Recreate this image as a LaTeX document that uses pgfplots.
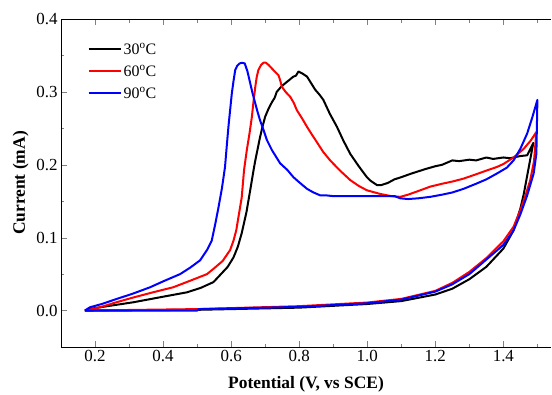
\documentclass[border=0pt]{standalone}
\usepackage{fontspec}
\setmainfont{Liberation Serif}
\usepackage{pgfplots}
\pgfplotsset{compat=1.18}
\begin{document}
\begin{tikzpicture}
\begin{axis}[
  width=490bp, height=328bp, scale only axis,
  xmin=0.1, xmax=1.54, ymin=-0.05, ymax=0.4,
  separate axis lines,
  axis x line*=box, axis y line*=left,
  tick align=inside,
  xtick={0.2,0.4,...,1.41}, ytick={0,0.1,...,0.41},
  minor xtick={0.1,0.3,...,1.51}, minor ytick={-0.05,0.05,0.15,0.25,0.35},
  xticklabel style={/pgf/number format/.cd,fixed,fixed zerofill,precision=1},
  yticklabel style={/pgf/number format/.cd,fixed,fixed zerofill,precision=1},
  /pgf/number format/assume math mode=true,
  tick label style={font=\fontsize{17}{19}\selectfont},
  major tick length=6bp, minor tick length=3.5bp,
  xlabel={\textbf{Potential (V, vs SCE)}},
  ylabel={\textbf{Current (mA)}},
  label style={font=\fontsize{17.5}{20}\selectfont},
  xlabel style={yshift=-8bp},
  ylabel style={yshift=1bp},
  legend style={draw=none, fill=none, at={(rel axis cs:0.048,0.94)}, anchor=north west,
    font=\fontsize{16}{18}\selectfont, row sep=5bp},
  legend cell align=left,
  legend image code/.code={\draw[#1, line width=2bp] (0bp,0bp) -- (32bp,0bp);},
  every axis plot/.append style={line width=2bp, line join=round},
]
\coordinate (bl) at (rel axis cs:0,0);
\coordinate (tr) at (rel axis cs:1,1);
% 30 C
\addplot[black] coordinates {
(0.17,0.0) (0.5,0.001) (0.8,0.004) (1.0,0.009) (1.1,0.013) (1.2,0.022) (1.25,0.030) (1.3,0.043) (1.35,0.060) (1.4,0.085) (1.43,0.11) (1.45,0.14) (1.46,0.16) (1.47,0.185) (1.48,0.21) (1.488,0.23)
(1.47,0.213) (1.45,0.212) (1.42,0.209) (1.4,0.210) (1.37,0.208) (1.35,0.210) (1.32,0.206) (1.3,0.207) (1.27,0.205) (1.25,0.206) (1.22,0.200) (1.2,0.198) (1.17,0.194) (1.15,0.191) (1.13,0.188) (1.1,0.183) (1.08,0.180) (1.06,0.175) (1.04,0.172) (1.029,0.172) (1.01,0.178) (0.999,0.183) (0.975,0.198) (0.95,0.215) (0.93,0.233) (0.911,0.252) (0.89,0.270) (0.871,0.289) (0.86,0.296) (0.847,0.303) (0.835,0.312) (0.823,0.321) (0.81,0.325) (0.798,0.328) (0.79,0.322) (0.783,0.321) (0.77,0.316) (0.754,0.310) (0.745,0.306) (0.734,0.300) (0.728,0.292) (0.72,0.286) (0.71,0.277) (0.7,0.266) (0.692,0.252) (0.685,0.238) (0.678,0.222) (0.671,0.206) (0.666,0.193) (0.656,0.165) (0.645,0.135) (0.631,0.106) (0.62,0.088) (0.607,0.073) (0.59,0.060) (0.57,0.050) (0.548,0.039) (0.51,0.031) (0.47,0.025) (0.4,0.019) (0.313,0.0114) (0.25,0.007) (0.185,0.0023) (0.17,0.0)
};
\addlegendentry{30$^{\mathrm{o}}$C}
% 60 C
\addplot[red] coordinates {
(0.17,0.0) (0.5,0.002) (0.8,0.006) (1.0,0.011) (1.1,0.016) (1.2,0.027) (1.25,0.038) (1.3,0.053) (1.35,0.072) (1.4,0.095) (1.43,0.115) (1.45,0.138) (1.465,0.158) (1.479,0.179) (1.49,0.205) (1.497,0.245)
(1.48,0.233) (1.46,0.222) (1.43,0.210) (1.4,0.201) (1.381,0.197) (1.35,0.192) (1.32,0.187) (1.283,0.181) (1.25,0.177) (1.22,0.174) (1.185,0.170) (1.15,0.164) (1.12,0.159) (1.097,0.156) (1.07,0.157) (1.038,0.160) (0.999,0.165) (0.975,0.171) (0.95,0.179) (0.92,0.192) (0.891,0.206) (0.87,0.218) (0.852,0.231) (0.838,0.241) (0.823,0.252) (0.808,0.264) (0.793,0.275) (0.784,0.285) (0.774,0.293) (0.76,0.300) (0.749,0.307) (0.744,0.316) (0.739,0.323) (0.73,0.327) (0.72,0.332) (0.71,0.337) (0.702,0.340) (0.695,0.340) (0.688,0.337) (0.68,0.330) (0.675,0.320) (0.671,0.307) (0.666,0.288) (0.661,0.266) (0.654,0.243) (0.646,0.220) (0.638,0.193) (0.631,0.155) (0.615,0.110) (0.607,0.096) (0.597,0.083) (0.575,0.068) (0.55,0.058) (0.529,0.050) (0.48,0.041) (0.43,0.032) (0.37,0.025) (0.313,0.018) (0.26,0.011) (0.215,0.0045) (0.17,0.0)
};
\addlegendentry{60$^{\mathrm{o}}$C}
% 90 C
\addplot[blue] coordinates {
(0.17,0.0) (0.5,0.0) (0.505,0.002) (0.8,0.005) (1.0,0.010) (1.1,0.015) (1.2,0.026) (1.25,0.036) (1.3,0.050) (1.35,0.070) (1.4,0.090) (1.43,0.110) (1.45,0.132) (1.47,0.158) (1.489,0.188) (1.497,0.215) (1.5,0.289)
(1.485,0.265) (1.47,0.243) (1.45,0.222) (1.43,0.206) (1.41,0.196) (1.381,0.188) (1.35,0.180) (1.32,0.174) (1.283,0.167) (1.25,0.162) (1.22,0.159) (1.185,0.156) (1.15,0.154) (1.12,0.153) (1.097,0.154) (1.08,0.157) (1.0,0.157) (0.9,0.157) (0.88,0.158) (0.862,0.158) (0.842,0.162) (0.823,0.167) (0.8,0.176) (0.783,0.183) (0.765,0.193) (0.744,0.202) (0.732,0.211) (0.72,0.220) (0.705,0.234) (0.695,0.248) (0.685,0.261) (0.678,0.272) (0.671,0.284) (0.663,0.298) (0.656,0.312) (0.648,0.328) (0.64,0.339) (0.632,0.340) (0.625,0.339) (0.618,0.336) (0.612,0.330) (0.607,0.315) (0.602,0.298) (0.597,0.275) (0.592,0.252) (0.587,0.225) (0.582,0.197) (0.573,0.168) (0.563,0.142) (0.553,0.118) (0.543,0.096) (0.529,0.083) (0.509,0.069) (0.48,0.059) (0.45,0.050) (0.4,0.040) (0.362,0.032) (0.31,0.023) (0.264,0.016) (0.22,0.009) (0.185,0.0045) (0.17,0.0)
};
\addlegendentry{90$^{\mathrm{o}}$C}
\end{axis}
\pgfresetboundingbox
\path ([shift={(-61bp,-48bp)}]bl) rectangle ([shift={(1bp,19bp)}]tr);
\end{tikzpicture}
\end{document}
